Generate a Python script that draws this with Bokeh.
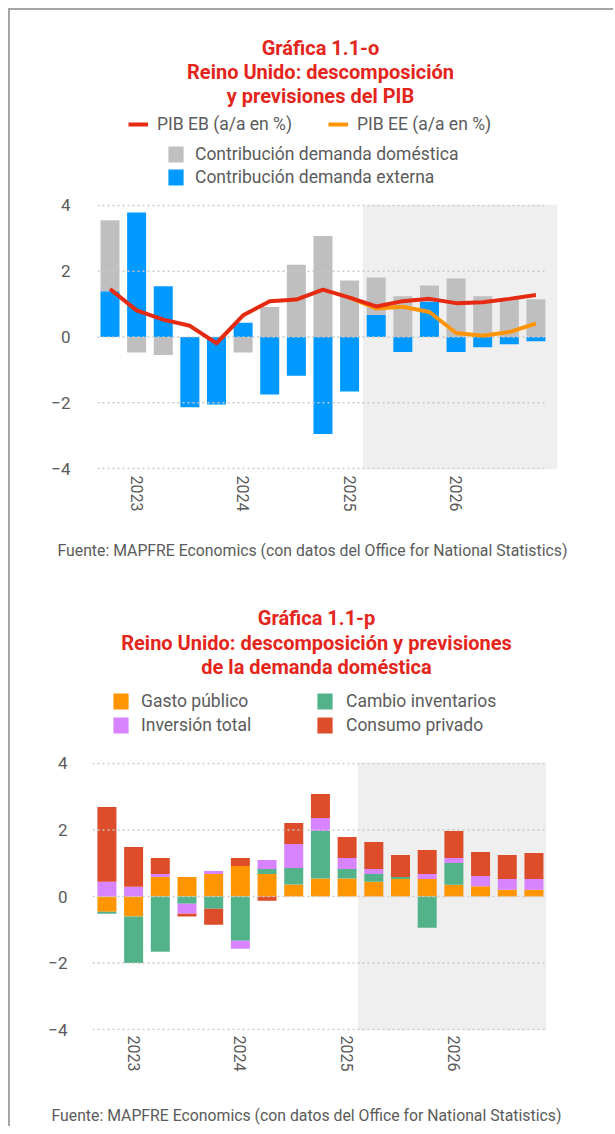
import numpy as np
from bokeh.plotting import figure
from bokeh.models import Range1d, FixedTicker, BoxAnnotation, Label, Legend, LegendItem
from bokeh.layouts import column
from bokeh.embed import file_html
from bokeh.resources import INLINE

# ---------------- data ----------------
quarters = ["4T22", "1T23", "2T23", "3T23", "4T23", "1T24", "2T24", "3T24", "4T24",
            "1T25", "2T25", "3T25", "4T25", "1T26", "2T26", "3T26", "4T26"]
year_ticks = [1, 5, 9, 13]
year_labels = ["2023", "2024", "2025", "2026"]
y_ticks = [-4, -2, 0, 2, 4]

# Chart 1.1-o
ext_demand = [1.39, 3.79, 1.54, -2.14, -2.05, 0.43, -1.75, -1.18, -2.95, -1.66,
              0.67, -0.46, 1.08, -0.46, -0.31, -0.22, -0.13]
dom_demand = [2.16, -0.47, -0.55, 0.0, 0.0, -0.47, 0.91, 2.20, 3.07, 1.72,
              1.14, 1.24, 0.49, 1.78, 1.24, 1.18, 1.15]
pib_eb = [1.46, 0.81, 0.53, 0.34, -0.19, 0.66, 1.09, 1.14, 1.44, 1.20,
          0.93, 1.09, 1.16, 1.03, 1.06, 1.16, 1.28]
pib_ee = [np.nan] * 9 + [1.20, 0.87, 0.92, 0.76, 0.12, 0.04, 0.15, 0.41]

# Chart 1.1-p
gasto_publico = [-0.46, -0.60, 0.59, 0.59, 0.68, 0.92, 0.68, 0.36, 0.54, 0.54,
                 0.44, 0.53, 0.53, 0.35, 0.31, 0.20, 0.20]
cambio_inventarios = [-0.06, -1.40, -1.66, -0.22, -0.37, -1.33, 0.15, 0.50, 1.43, 0.29,
                      0.24, 0.06, -0.94, 0.66, 0.0, 0.0, 0.0]
inversion_total = [0.44, 0.29, 0.09, -0.30, 0.09, -0.24, 0.27, 0.72, 0.39, 0.33,
                   0.15, 0.0, 0.15, 0.15, 0.31, 0.33, 0.33]
consumo_privado = [2.25, 1.20, 0.48, -0.08, -0.48, 0.24, -0.13, 0.63, 0.72, 0.63,
                   0.81, 0.66, 0.72, 0.81, 0.72, 0.72, 0.78]

titles_1 = ["Gráfica 1.1-o", "Reino Unido: descomposición", "y previsiones del PIB"]
titles_2 = ["Gráfica 1.1-p", "Reino Unido: descomposición y previsiones",
            "de la demanda doméstica"]
source_text = "Fuente: MAPFRE Economics (con datos del Office for National Statistics)"

# ---------------- styles ----------------
FONT = "Roboto"
TITLE_RED = "#E4251B"
TEXT_GRAY = "#5B5B5B"
GRID_GRAY = "#C8C8C8"
SHADE = "#EFEFEF"
EB_RED = "#E62A12"
EE_ORANGE = "#FF9408"
C_DOM = "#BFBFBF"
C_EXT = "#0099FF"
colors2 = ["#FF9500", "#52B38B", "#D883FF", "#DD4D2A"]
W = 603
X0, Y0 = 10, 10  # page position of the layout content
x_idx = np.arange(len(quarters))
NAN1 = [np.nan]  # placeholder data for legend-only renderers


def stack(series_list):
    pos = np.zeros(len(quarters))
    neg = np.zeros(len(quarters))
    out = []
    for s in series_list:
        s = np.asarray(s, dtype=float)
        bottom = np.where(s >= 0, pos, neg)
        top = bottom + s
        pos = np.where(s >= 0, top, pos)
        neg = np.where(s < 0, top, neg)
        out.append((bottom, top))
    return out


def blank_fig(y_top, y_bottom):
    # a text-only strip; data coordinates equal page pixels
    p = figure(width=W, height=y_bottom - y_top, x_range=Range1d(X0, X0 + W),
               y_range=Range1d(y_bottom, y_top), x_axis_type=None, y_axis_type=None,
               min_border=0, output_backend="svg", toolbar_location=None, tools="",
               frame_align=False)
    p.outline_line_color = None
    p.grid.visible = False
    p.background_fill_color = "white"
    p.border_fill_color = "white"
    return p


def add_titles(p, lines, cx, ys):
    for txt, yy in zip(lines, ys):
        p.add_layout(Label(x=cx, y=yy, text=txt, text_align="center",
                           text_baseline="alphabetic", text_font=FONT,
                           text_font_size="20px", text_font_style="bold",
                           text_color=TITLE_RED))


def add_source(p, x, y):
    p.add_layout(Label(x=x, y=y, text=source_text, text_align="left",
                       text_baseline="middle", text_font=FONT, text_font_size="15.8px",
                       text_color=TEXT_GRAY))


def add_legend(p, items, loc, gw, gh, standoff, spacing):
    leg = Legend(items=[LegendItem(label=l, renderers=[r]) for l, r in items],
                 location=loc, orientation="vertical", background_fill_alpha=0.0,
                 border_line_color=None, padding=0, margin=0, glyph_width=gw,
                 glyph_height=gh, label_standoff=standoff, label_text_font=FONT,
                 label_text_font_size="17.5px", label_text_color=TEXT_GRAY,
                 label_height=gh, spacing=spacing)
    p.add_layout(leg)


def plot_fig(height, left, right, top, bottom, xr, shade_left, tick_standoff, x_standoff):
    p = figure(width=W, height=height, min_border_left=left, min_border_right=right,
               min_border_top=top, min_border_bottom=bottom,
               x_range=Range1d(*xr), y_range=Range1d(-4.03, 4.03),
               output_backend="svg", toolbar_location=None, tools="",
               frame_align=False)
    p.outline_line_color = None
    p.background_fill_color = "white"
    p.border_fill_color = "white"
    p.xgrid.visible = False
    p.ygrid.visible = False
    p.add_layout(BoxAnnotation(left=shade_left, fill_color=SHADE, fill_alpha=1.0,
                               line_color=None, level="underlay"))
    for ax in (p.xaxis, p.yaxis):
        ax.axis_line_color = None
        ax.major_tick_line_color = None
        ax.minor_tick_line_color = None
        ax.major_tick_out = 0
        ax.major_tick_in = 0
        ax.major_label_text_font = FONT
        ax.major_label_text_color = TEXT_GRAY
    p.yaxis.ticker = FixedTicker(ticks=y_ticks)
    p.yaxis.major_label_text_font_size = "17px"
    p.yaxis.major_label_standoff = tick_standoff
    p.xaxis.ticker = FixedTicker(ticks=year_ticks)
    p.xaxis.major_label_overrides = {t: l for t, l in zip(year_ticks, year_labels)}
    p.xaxis.major_label_orientation = "vertical"
    p.xaxis.major_label_text_font_size = "16px"
    p.xaxis.major_label_standoff = x_standoff
    return p


def add_grid(p, x_from, x_to):
    p.segment(x0=x_from, x1=x_to, y0=y_ticks, y1=y_ticks,
              line_color=GRID_GRAY, line_dash="2 3", line_width=1.5)


# ================= chart 1 =================
head1 = blank_fig(10, 194)
add_titles(head1, titles_1, 320, [47, 71, 95])
l_eb = head1.line(x=NAN1, y=NAN1, line_color=EB_RED, line_width=4)
l_ee = head1.line(x=NAN1, y=NAN1, line_color=EE_ORANGE, line_width=4)
l_dom = head1.vbar(x=NAN1, top=NAN1, width=1, fill_color=C_DOM, line_color=None)
l_ext = head1.vbar(x=NAN1, top=NAN1, width=1, fill_color=C_EXT, line_color=None)
add_legend(head1, [("PIB EB (a/a en %)", l_eb)], (118, 60), 20, 20, 9, 3)
add_legend(head1, [("PIB EE (a/a en %)", l_ee)], (318, 60), 20, 20, 9, 3)
add_legend(head1, [("Contribución demanda doméstica", l_dom),
                   ("Contribución demanda externa", l_ext)], (156, 7), 19, 20, 10, 3)

p1 = plot_fig(336, 87, 56, 10, 61, (-0.47, 16.81), 9.5, 27, 6)
(b_ext, t_ext), (b_dom, t_dom) = stack([ext_demand, dom_demand])
p1.vbar(x=x_idx, width=0.714, bottom=b_ext, top=t_ext, fill_color=C_EXT, line_color=None)
p1.vbar(x=x_idx, width=0.714, bottom=b_dom, top=t_dom, fill_color=C_DOM, line_color=None)
add_grid(p1, -0.47, 16.43)
p1.line(x=x_idx, y=pib_ee, line_color=EE_ORANGE, line_width=4, line_join="round")
p1.line(x=x_idx, y=pib_eb, line_color=EB_RED, line_width=4, line_join="round")

foot1 = blank_fig(530, 575)
add_source(foot1, 57, 550)

# ================= chart 2 =================
head2 = blank_fig(575, 752)
add_titles(head2, titles_2, 316, [617, 642, 666])
lg = [head2.vbar(x=NAN1, top=NAN1, width=1, fill_color=c, line_color=None) for c in colors2]
add_legend(head2, [("Gasto público", lg[0]), ("Inversión total", lg[2])], (101, 17), 19, 20, 11, 4)
add_legend(head2, [("Cambio inventarios", lg[1]), ("Consumo privado", lg[3])], (305, 17), 19, 20, 12, 4)

p2 = plot_fig(338, 82, 67, 10, 60, (-0.54, 16.47), 9.4, 25, 5)
stacks2 = stack([gasto_publico, cambio_inventarios, inversion_total, consumo_privado])
for (bt, tp), c in zip(stacks2, colors2):
    p2.vbar(x=x_idx, width=0.712, bottom=bt, top=tp, fill_color=c, line_color=None)
add_grid(p2, -0.54, 16.43)

foot2 = blank_fig(1090, 1126)
add_source(foot2, 51, 1115)

layout = column(head1, p1, foot1, head2, p2, foot2, spacing=0,
                styles={"margin-left": "8px", "margin-top": "8px",
                        "border-top": "2px solid #A6A6A6",
                        "border-left": "2px solid #A6A6A6"})

open("out.html", "w").write(file_html(layout, INLINE))
